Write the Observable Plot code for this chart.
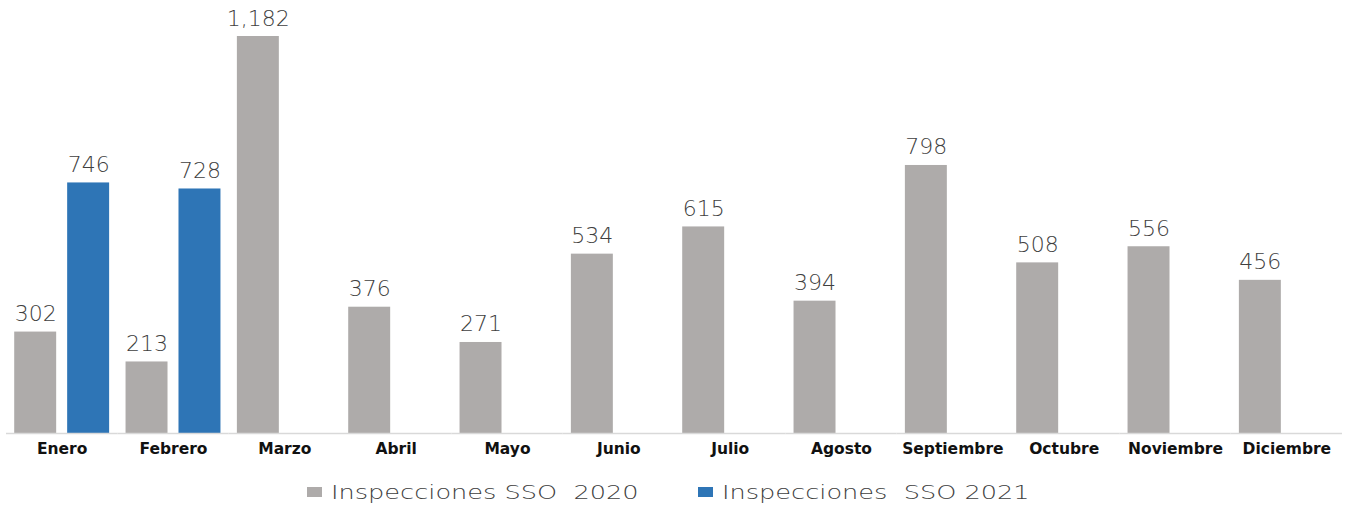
<!DOCTYPE html>
<html>
<head>
<meta charset="utf-8">
<script src="https://cdn.jsdelivr.net/npm/d3@7"></script>
<script src="https://cdn.jsdelivr.net/npm/@observablehq/plot@0.6"></script>
<style>
  body { margin: 0; background: #fff; }
  #wrap { position: relative; width: 1345px; height: 508px; font-family: "DejaVu Sans", sans-serif; }
  #legend { position: absolute; top: 478px; left: 0; width: 1345px; height: 28px; }
  .sw { position: absolute; width: 15px; height: 10px; top: 9px; }
  .lt { position: absolute; top: 0; white-space: pre; font-size: 20px; color: #404040; font-weight: 200; line-height: 28px; transform: scaleX(1.28); transform-origin: left center; }
</style>
</head>
<body>
<div id="wrap"><div id="chart"></div><div id="legend"></div></div>
<script>
const months = ["Enero","Febrero","Marzo","Abril","Mayo","Junio","Julio","Agosto","Septiembre","Octubre","Noviembre","Diciembre"];
const sso2020 = [302,213,1182,376,271,534,615,394,798,508,556,456];
const sso2021 = [746,728,null,null,null,null,null,null,null,null,null,null];
const seriesNames = ["Inspecciones SSO  2020","Inspecciones  SSO 2021"];
const colors = ["#aeabaa","#2e75b6"];

const rows = [];
months.forEach((m,i) => {
  if (sso2020[i] != null) rows.push({month: m, series: seriesNames[0], value: sso2020[i]});
  if (sso2021[i] != null) rows.push({month: m, series: seriesNames[1], value: sso2021[i]});
});

const chart = Plot.plot({
  width: 1345,
  height: 470,
  marginTop: 36,
  marginBottom: 37,
  marginLeft: 6,
  marginRight: 3,
  style: {fontFamily: "'DejaVu Sans', sans-serif", background: "#fff"},
  fx: {domain: months, padding: 0, round: false, label: null},
  x: {domain: seriesNames, paddingInner: 0.2075, paddingOuter: 0.155, round: false, axis: null},
  y: {domain: [0, 1182], axis: null},
  color: {domain: seriesNames, range: colors},
  marks: [
    Plot.barY(rows, {fx: "month", x: "series", y: "value", fill: "series"}),
    Plot.text(rows, {fx: "month", x: "series", y: "value", text: d => d3.format(",")(d.value), lineAnchor: "bottom", dy: -11, fontSize: 22, fill: "#404040", fontWeight: 200}),
    Plot.ruleY([0], {stroke: "#d9d9d9", strokeWidth: 1.5}),
    Plot.axisFx({anchor: "bottom", tickSize: 0, tickPadding: 9, fontSize: 15.5, fontWeight: "bold", fill: "#111", label: null})
  ]
});
document.getElementById("chart").appendChild(chart);

const legend = document.getElementById("legend");
const swLeft = [307, 698];
const txLeft = [331, 722];
seriesNames.forEach((s,i) => {
  const sw = document.createElement("div");
  sw.className = "sw";
  sw.style.left = swLeft[i] + "px";
  sw.style.background = colors[i];
  legend.appendChild(sw);
  const t = document.createElement("div");
  t.className = "lt";
  t.style.left = txLeft[i] + "px";
  t.textContent = s;
  legend.appendChild(t);
});
</script>
</body>
</html>
